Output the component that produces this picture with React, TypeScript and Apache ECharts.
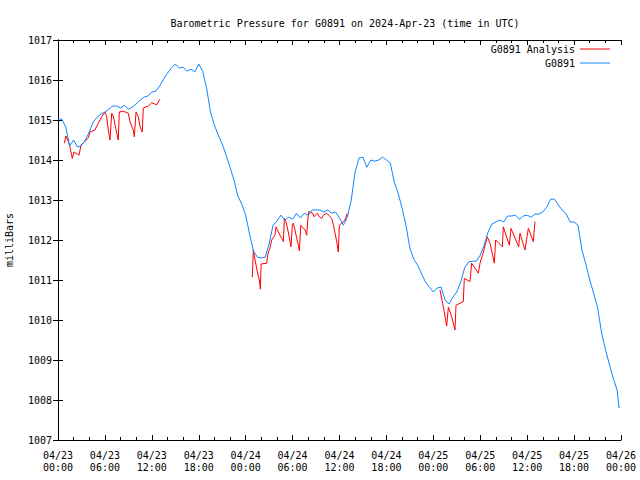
import React, { useEffect, useRef } from "react";
import * as echarts from "echarts";

const titleText = "Barometric Pressure for G0891 on 2024-Apr-23 (time in UTC)";
const yAxisName = "milliBars";
const seriesNames = ["G0891 Analysis", "G0891"];

// hours since 2024-04-23 00:00 UTC
const blueHours = [
  0, 0.5, 1, 1.5, 2, 2.5, 3, 3.5, 4, 4.5, 5, 5.5, 6, 6.5, 7, 7.5, 8, 8.5, 9, 9.5,
  10, 10.5, 11, 11.5, 12, 12.5, 13, 13.5, 14, 14.5, 15, 15.5, 16, 16.5, 17, 17.5, 18, 18.5, 19, 19.5,
  20, 20.5, 21, 21.5, 22, 22.5, 23, 23.5, 24, 24.5, 25, 25.5, 26, 26.5, 27, 27.5, 28, 28.5, 29, 29.5,
  30, 30.5, 31, 31.5, 32, 32.5, 33, 33.5, 34, 34.5, 35, 35.5, 36, 36.5, 37, 37.5, 38, 38.5, 39, 39.5,
  40, 40.5, 41, 41.5, 42, 42.5, 43, 43.5, 44, 44.5, 45, 45.5, 46, 46.5, 47, 47.5, 48, 48.5, 49, 49.5,
  50, 50.5, 51, 51.5, 52, 52.5, 53, 53.5, 54, 54.5, 55, 55.5, 56, 56.5, 57, 57.5, 58, 58.5, 59, 59.5,
  60, 60.5, 61, 61.5, 62, 62.5, 63, 63.5, 64, 64.5, 65, 65.5, 66, 66.5, 67, 67.5, 68, 68.5, 69, 69.5,
  70, 70.5, 71, 71.5, 71.75,
];
const blueValues = [
  1015.02, 1015.02, 1014.82, 1014.35, 1014.5, 1014.32, 1014.37, 1014.5, 1014.7, 1014.95,
  1015.07, 1015.15, 1015.2, 1015.27, 1015.35, 1015.35, 1015.3, 1015.37, 1015.27, 1015.32,
  1015.4, 1015.5, 1015.57, 1015.6, 1015.7, 1015.72, 1015.85, 1016.02, 1016.17, 1016.3,
  1016.4, 1016.3, 1016.32, 1016.22, 1016.27, 1016.2, 1016.4, 1016.22, 1015.8, 1015.2,
  1014.87, 1014.62, 1014.4, 1014.12, 1013.82, 1013.5, 1013.1, 1012.9, 1012.62, 1012.15,
  1011.72, 1011.57, 1011.55, 1011.57, 1011.9, 1012.37, 1012.47, 1012.62, 1012.5, 1012.57,
  1012.52, 1012.67, 1012.55, 1012.67, 1012.62, 1012.75, 1012.75, 1012.75, 1012.7, 1012.75,
  1012.67, 1012.7, 1012.55, 1012.37, 1012.57, 1013.0, 1013.7, 1014.05, 1014.07, 1013.82,
  1014.0, 1013.97, 1014.0, 1014.07, 1014.0, 1013.92, 1013.45, 1013.17, 1012.8, 1012.37,
  1011.8, 1011.52, 1011.37, 1011.15, 1010.95, 1010.82, 1010.7, 1010.8, 1010.82, 1010.5,
  1010.4, 1010.57, 1010.7, 1010.95, 1011.3, 1011.45, 1011.47, 1011.47, 1011.62, 1011.87,
  1012.2, 1012.4, 1012.45, 1012.5, 1012.45, 1012.6, 1012.6, 1012.62, 1012.52, 1012.6,
  1012.62, 1012.57, 1012.65, 1012.65, 1012.7, 1012.82, 1013.02, 1013.02, 1012.87, 1012.75,
  1012.65, 1012.45, 1012.45, 1012.37, 1011.75, 1011.4, 1011.0, 1010.67, 1010.32, 1009.7,
  1009.27, 1008.9, 1008.55, 1008.25, 1007.8,
];

// analysis line: three segments
const analysisHoursA = [
  0.81, 1.02, 1.32, 1.53, 1.83, 2.05, 2.69, 2.94, 3.88, 4.09, 4.73, 5.15, 5.59, 6.01, 6.23, 6.43,
  6.65, 6.87, 7.07, 7.51, 7.71, 7.84, 8.35, 8.99, 9.21, 9.63, 9.76, 9.98, 10.27, 10.49, 10.78,
  10.91, 11.55, 11.98, 12.62, 13.04,
];
const analysisValuesA = [
  1014.42, 1014.6, 1014.46, 1014.33, 1014.04, 1014.2, 1014.12, 1014.37, 1014.55, 1014.7, 1014.75,
  1014.92, 1015.08, 1015.2, 1015.08, 1014.75, 1014.5, 1015.17, 1015.1, 1014.67, 1014.5, 1015.2,
  1015.22, 1015.17, 1014.95, 1014.75, 1014.58, 1015.2, 1015.08, 1014.83, 1014.7, 1015.3, 1015.35,
  1015.43, 1015.38, 1015.52,
];
const analysisHoursB = [
  24.85, 24.98, 25.2, 25.63, 25.76, 25.88, 25.97, 26.69, 26.77, 26.9, 27.11, 27.33, 27.75, 27.88,
  28.18, 28.61, 28.82, 28.95, 29.16, 29.45, 29.8, 29.97, 30.09, 30.31, 30.53, 30.74, 30.87, 31.05,
  31.6, 31.81, 31.94, 32.07, 32.58, 32.74, 33.16, 33.42, 33.73, 33.93, 34.37, 34.8, 35.01, 35.22,
  35.43, 35.65, 35.85, 35.98, 36.29, 36.7, 37.0,
];
const analysisValuesB = [
  1011.07, 1011.75, 1011.5, 1011.08, 1011.0, 1010.77, 1011.4, 1011.42, 1011.55, 1011.7, 1011.8,
  1012.0, 1012.12, 1012.33, 1012.2, 1012.04, 1011.96, 1012.54, 1012.46, 1012.2, 1011.83, 1012.37,
  1012.42, 1012.25, 1012.04, 1011.87, 1011.73, 1012.37, 1012.25, 1012.12, 1012.5, 1012.71, 1012.67,
  1012.58, 1012.67, 1012.58, 1012.54, 1012.62, 1012.67, 1012.58, 1012.54, 1012.37, 1012.17,
  1011.96, 1011.7, 1012.37, 1012.42, 1012.5, 1012.67,
];
const analysisHoursC = [
  48.85, 49.28, 49.71, 49.92, 50.35, 50.77, 50.9, 51.83, 51.96, 52.69, 52.9, 53.75, 53.97, 54.4,
  54.9, 55.25, 55.8, 55.97, 56.83, 56.95, 57.72, 57.93, 58.91, 59.08, 59.72, 60.15, 60.78, 61.0,
];
const analysisValuesC = [
  1010.75, 1010.33, 1009.85, 1010.32, 1010.08, 1009.75, 1010.37, 1010.46, 1011.04, 1010.96,
  1011.42, 1011.17, 1011.42, 1011.7, 1012.08, 1011.92, 1011.42, 1012.0, 1011.83, 1012.33, 1011.87,
  1012.29, 1011.83, 1012.17, 1011.75, 1012.29, 1011.96, 1012.46,
];

const xTickHours = [0, 6, 12, 18, 24, 30, 36, 42, 48, 54, 60, 66, 72];
const yMin = 1007;
const yMax = 1017;

const FONT = "DejaVu Sans Mono";
const RED = "#ff0000";
const BLUE = "#1084ff";

function pairs(h: number[], v: number[]) {
  return h.map((x, i) => [x, v[i]]);
}

function fmtX(h: number) {
  const day = 23 + Math.floor(h / 24);
  const hr = h % 24;
  const hh = hr < 10 ? "0" + hr : "" + hr;
  return "04/" + day + "\n" + hh + ":00";
}

export default function App() {
  const ref = useRef<HTMLDivElement>(null);
  useEffect(() => {
    if (!ref.current) return;
    const chart = echarts.init(ref.current, undefined, { renderer: "svg" });
    const gap = [null, null];
    const analysisData = [
      ...pairs(analysisHoursA, analysisValuesA),
      gap,
      ...pairs(analysisHoursB, analysisValuesB),
      gap,
      ...pairs(analysisHoursC, analysisValuesC),
    ];
    const blueData = pairs(blueHours, blueValues);
    const axisLine = { show: true, lineStyle: { color: "#000", width: 1 } };
    const xCommon = {
      type: "value" as const,
      min: xTickHours[0],
      max: xTickHours[xTickHours.length - 1],
      interval: 6,
      axisLine,
      axisTick: { show: true, inside: true, length: 5, lineStyle: { color: "#000" } },
      minorTick: { show: true, splitNumber: 3, length: 3, lineStyle: { color: "#000" } },
      splitLine: { show: false },
      minorSplitLine: { show: false },
    };
    const yCommon = {
      type: "value" as const,
      min: yMin,
      max: yMax,
      interval: 1,
      axisLine,
      axisTick: { show: true, inside: true, length: 5, lineStyle: { color: "#000" } },
      splitLine: { show: false },
    };
    const legendCommon = {
      orient: "horizontal" as const,
      right: 30,
      align: "right" as const,
      icon: "rect",
      itemWidth: 30,
      itemHeight: 1,
      padding: 0,
      textStyle: { fontFamily: FONT, fontSize: 10, color: "#000" },
    };
    chart.setOption({
      animation: false,
      backgroundColor: "#fff",
      title: {
        text: titleText,
        left: 340,
        top: 13,
        textAlign: "center",
        textStyle: { fontFamily: FONT, fontSize: 10, fontWeight: "normal", color: "#000" },
      },
      legend: [
        { ...legendCommon, data: [seriesNames[0]], top: 44 },
        { ...legendCommon, data: [seriesNames[1]], top: 58 },
      ],
      grid: { left: 58, right: 19, top: 40, bottom: 40, outerBoundsMode: "none", containLabel: false },
      xAxis: [
        {
          ...xCommon,
          position: "bottom",
          axisLabel: {
            show: true,
            margin: 9,
            fontFamily: FONT,
            fontSize: 10,
            lineHeight: 12,
            color: "#000",
            formatter: (v: number) => fmtX(v),
          },
        },
        { ...xCommon, position: "top", axisLabel: { show: false } },
      ],
      yAxis: [
        {
          ...yCommon,
          position: "left",
          name: yAxisName,
          nameLocation: "middle",
          nameRotate: 90,
          nameGap: 44,
          nameTextStyle: { fontFamily: FONT, fontSize: 10, color: "#000" },
          axisLabel: {
            show: true,
            margin: 6,
            fontFamily: FONT,
            fontSize: 10,
            color: "#000",
            formatter: (v: number) => String(v),
          },
        },
        { ...yCommon, position: "right", axisLabel: { show: false } },
      ],
      series: [
        {
          name: seriesNames[0],
          type: "line",
          data: analysisData,
          xAxisIndex: 0,
          yAxisIndex: 0,
          symbol: "none",
          connectNulls: false,
          lineStyle: { color: RED, width: 1 },
          itemStyle: { color: RED },
        },
        {
          name: seriesNames[1],
          type: "line",
          data: blueData,
          xAxisIndex: 0,
          yAxisIndex: 0,
          symbol: "none",
          lineStyle: { color: BLUE, width: 1 },
          itemStyle: { color: BLUE },
        },
      ],
    });
    return () => chart.dispose();
  }, []);
  return (
    <div
      ref={ref}
      style={{ position: "fixed", left: 0, top: 0, width: 640, height: 480 }}
    />
  );
}
